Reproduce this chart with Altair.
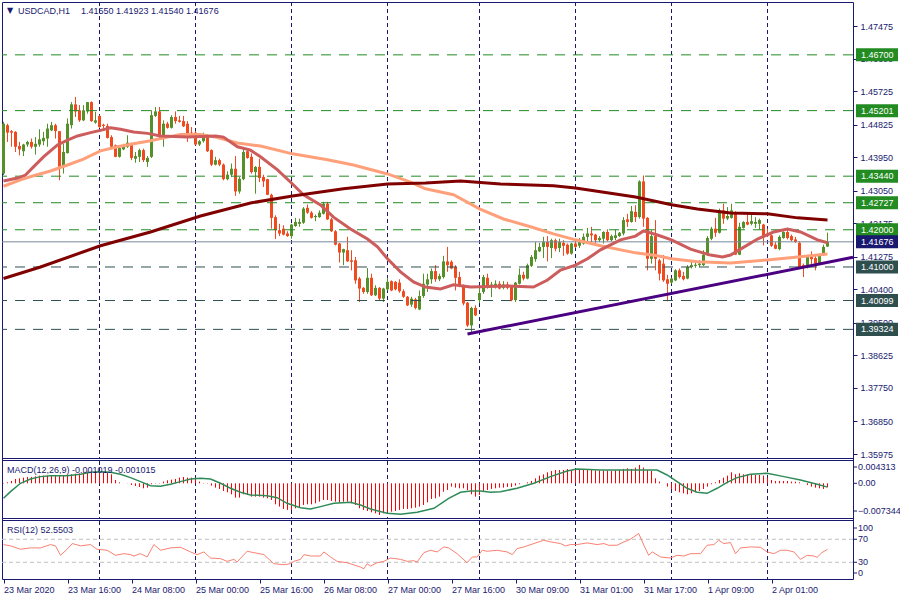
import altair as alt
import pandas as pd

# ---------------- data ----------------
opens = [1.4351,1.4481,1.4465,1.4463,1.4425,1.4411,1.4429,1.4436,1.4423,1.4429,
1.4438,1.4445,1.4467,1.4481,1.4465,1.4369,1.4406,1.4481,1.4537,1.4521,
1.4494,1.4518,1.4543,1.4488,1.4506,1.4479,1.4479,1.4449,1.4427,1.4396,
1.4416,1.4423,1.4431,1.4391,1.4396,1.4414,1.4382,1.4396,1.4506,1.4518,
1.4449,1.4485,1.4474,1.4503,1.4494,1.4492,1.4485,1.4461,1.4461,1.4429,
1.4438,1.4454,1.4414,1.4375,1.4387,1.4375,1.4336,1.4348,1.4364,1.4303,
1.4336,1.4411,1.4396,1.4355,1.4369,1.4342,1.4336,1.4294,1.4234,1.4199,
1.4203,1.4190,1.4183,1.4210,1.4216,1.4219,1.4259,1.4246,1.4234,1.4234,
1.4243,1.4270,1.4228,1.4196,1.4163,1.4139,1.4145,1.4118,1.4118,1.4069,
1.4044,1.4033,1.4071,1.4024,1.4044,1.4015,1.4040,1.4062,1.4060,1.4058,
1.4035,1.4020,1.3999,1.4013,1.3986,1.4022,1.4053,1.4067,1.4089,1.4067,
1.4073,1.4115,1.4114,1.4100,1.4073,1.4049,1.4004,1.3943,1.3990,1.4011,
1.4033,1.4071,1.4046,1.4049,1.4055,1.4044,1.4053,1.4049,1.4011,1.4055,
1.4079,1.4069,1.4103,1.4121,1.4142,1.4154,1.4167,1.4151,1.4172,1.4151,
1.4165,1.4160,1.4136,1.4163,1.4157,1.4163,1.4181,1.4190,1.4187,1.4172,
1.4176,1.4194,1.4172,1.4178,1.4183,1.4190,1.4228,1.4221,1.4248,1.4234,
1.4330,1.4232,1.4122,1.4183,1.4118,1.4109,1.4067,1.4058,1.4064,1.4091,
1.4076,1.4069,1.4100,1.4103,1.4105,1.4105,1.4132,1.4176,1.4203,1.4192,
1.4252,1.4230,1.4232,1.4246,1.4133,1.4205,1.4221,1.4216,1.4216,1.4216,
1.4214,1.4190,1.4185,1.4160,1.4148,1.4178,1.4194,1.4183,1.4174,1.4165,
1.4105,1.4100,1.4127,1.4124,1.4109,1.4132,1.41550]
highs = [1.4490,1.4485,1.4468,1.4465,1.4436,1.4431,1.4439,1.4445,1.4449,1.4470,
1.4463,1.4485,1.4490,1.4485,1.4465,1.4431,1.4499,1.4543,1.4557,1.4535,
1.4535,1.4543,1.4545,1.4517,1.4508,1.4485,1.4485,1.4454,1.4429,1.4423,
1.4431,1.4454,1.4434,1.4409,1.4418,1.4418,1.4398,1.4521,1.4530,1.4530,
1.4494,1.4490,1.4508,1.4518,1.4506,1.4506,1.4492,1.4476,1.4465,1.4441,
1.4461,1.4456,1.4416,1.4396,1.4391,1.4378,1.4357,1.4378,1.4398,1.4342,
1.4418,1.4416,1.4405,1.4371,1.4391,1.4348,1.4337,1.4297,1.4239,1.4216,
1.4212,1.4196,1.4216,1.4232,1.4230,1.4261,1.4268,1.4250,1.4241,1.4252,
1.4275,1.4275,1.4232,1.4199,1.4165,1.4149,1.4181,1.4145,1.4127,1.4073,
1.4046,1.4097,1.4082,1.4051,1.4046,1.4044,1.4071,1.4064,1.4062,1.4067,
1.4040,1.4022,1.4020,1.4017,1.4037,1.4082,1.4082,1.4096,1.4105,1.4082,
1.4130,1.4154,1.4118,1.4105,1.4087,1.4053,1.4006,1.3993,1.3997,1.4044,
1.4079,1.4082,1.4060,1.4064,1.4062,1.4062,1.4060,1.4051,1.4060,1.4096,
1.4087,1.4109,1.4132,1.4167,1.4165,1.4181,1.4183,1.4176,1.4176,1.4176,
1.4172,1.4163,1.4165,1.4169,1.4178,1.4190,1.4205,1.4208,1.4189,1.4183,
1.4196,1.4201,1.4187,1.4201,1.4194,1.4234,1.4243,1.4264,1.4266,1.4333,
1.4346,1.4234,1.4199,1.4226,1.4122,1.4132,1.4079,1.4071,1.4094,1.4096,
1.4087,1.4105,1.4115,1.4111,1.4118,1.4145,1.4183,1.4208,1.4232,1.4257,
1.4270,1.4261,1.4270,1.4250,1.4219,1.4223,1.4243,1.4246,1.4234,1.4230,
1.4216,1.4203,1.4187,1.4167,1.4185,1.4196,1.4205,1.4187,1.4181,1.4169,
1.4109,1.4132,1.4142,1.4130,1.4136,1.4160,1.41923]
lows = [1.4347,1.4436,1.4423,1.4409,1.4400,1.4398,1.4423,1.4418,1.4402,1.4423,
1.4427,1.4423,1.4465,1.4445,1.4333,1.4351,1.4405,1.4472,1.4503,1.4490,
1.4492,1.4512,1.4490,1.4485,1.4474,1.4472,1.4445,1.4420,1.4395,1.4394,
1.4414,1.4420,1.4387,1.4380,1.4382,1.4382,1.4369,1.4393,1.4503,1.4445,
1.4423,1.4472,1.4472,1.4485,1.4488,1.4476,1.4436,1.4452,1.4427,1.4425,
1.4434,1.4409,1.4371,1.4373,1.4371,1.4333,1.4333,1.4342,1.4291,1.4297,
1.4333,1.4391,1.4351,1.4297,1.4328,1.4315,1.4293,1.4203,1.4175,1.4183,
1.4185,1.4181,1.4176,1.4208,1.4208,1.4216,1.4243,1.4230,1.4223,1.4232,
1.4241,1.4226,1.4194,1.4158,1.4112,1.4105,1.4114,1.4091,1.4055,1.4006,
1.4028,1.4028,1.4022,1.4022,1.4011,1.4006,1.4037,1.4035,1.4037,1.4031,
1.4017,1.3995,1.3993,1.3986,1.3984,1.4017,1.4033,1.4055,1.4060,1.4062,
1.4069,1.4087,1.4094,1.4037,1.4046,1.3997,1.3939,1.3925,1.3968,1.4003,
1.4028,1.4042,1.4019,1.4042,1.4040,1.4040,1.4040,1.4008,1.4006,1.4053,
1.4064,1.4067,1.4100,1.4114,1.4140,1.4124,1.4115,1.4124,1.4142,1.4140,
1.4130,1.4133,1.4133,1.4151,1.4151,1.4160,1.4165,1.4163,1.4163,1.4167,
1.4163,1.4169,1.4169,1.4172,1.4181,1.4185,1.4208,1.4219,1.4221,1.4230,
1.4208,1.4091,1.4109,1.4091,1.4064,1.4060,1.4008,1.4055,1.4062,1.4069,
1.4064,1.4067,1.4096,1.4098,1.4100,1.4103,1.4130,1.4172,1.4181,1.4190,
1.4216,1.4226,1.4230,1.4132,1.4132,1.4203,1.4212,1.4212,1.4205,1.4201,
1.4158,1.4181,1.4154,1.4148,1.4145,1.4176,1.4174,1.4169,1.4165,1.4098,
1.4073,1.4096,1.4105,1.4091,1.4106,1.4130,1.41540]
closes = [1.4485,1.4461,1.4461,1.4423,1.4416,1.4429,1.4436,1.4423,1.4431,1.4443,
1.4447,1.4472,1.4481,1.4465,1.4369,1.4409,1.4485,1.4537,1.4518,1.4494,
1.4521,1.4543,1.4492,1.4494,1.4476,1.4477,1.4447,1.4423,1.4396,1.4420,
1.4425,1.4434,1.4393,1.4398,1.4414,1.4387,1.4393,1.4508,1.4518,1.4449,
1.4485,1.4474,1.4503,1.4492,1.4490,1.4478,1.4458,1.4456,1.4429,1.4438,
1.4454,1.4411,1.4375,1.4387,1.4375,1.4336,1.4348,1.4364,1.4303,1.4337,
1.4409,1.4393,1.4355,1.4369,1.4339,1.4330,1.4294,1.4232,1.4199,1.4190,
1.4187,1.4183,1.4214,1.4221,1.4221,1.4257,1.4246,1.4232,1.4237,1.4246,
1.4270,1.4228,1.4196,1.4160,1.4139,1.4148,1.4115,1.4114,1.4064,1.4042,
1.4033,1.4071,1.4024,1.4044,1.4015,1.4042,1.4060,1.4037,1.4040,1.4035,
1.4020,1.3997,1.4015,1.3990,1.4022,1.4055,1.4067,1.4089,1.4067,1.4076,
1.4115,1.4105,1.4096,1.4071,1.4049,1.4002,1.3943,1.3990,1.3970,1.4030,
1.4073,1.4046,1.4053,1.4055,1.4042,1.4053,1.4044,1.4011,1.4058,1.4079,
1.4069,1.4105,1.4127,1.4145,1.4154,1.4167,1.4154,1.4172,1.4149,1.4167,
1.4157,1.4136,1.4163,1.4154,1.4167,1.4181,1.4190,1.4185,1.4172,1.4178,
1.4194,1.4172,1.4183,1.4185,1.4192,1.4226,1.4221,1.4250,1.4234,1.4330,
1.4230,1.4122,1.4183,1.4122,1.4082,1.4064,1.4055,1.4069,1.4091,1.4073,
1.4067,1.4100,1.4105,1.4106,1.4109,1.4133,1.4178,1.4203,1.4192,1.4252,
1.4230,1.4237,1.4252,1.4133,1.4208,1.4221,1.4214,1.4223,1.4221,1.4226,
1.4183,1.4183,1.4157,1.4149,1.4181,1.4194,1.4178,1.4172,1.4167,1.4100,
1.4100,1.4127,1.4121,1.4109,1.4133,1.4154,1.41676]

# moving averages (bar position, value)
ma_slow_bars = [0, 9.25, 24.25, 36.75, 49.25, 61.75, 72.25, 85, 96, 105.5, 114.25, 124.25,
                137.5, 143, 149.25, 158, 167, 173.5, 181.75, 191, 198.5, 206]
ma_slow_vals = [1.4069, 1.4100, 1.4157, 1.4194, 1.4237, 1.4272, 1.4291, 1.4310, 1.4323, 1.4326,
                1.4331, 1.4323, 1.4318, 1.4312, 1.4302, 1.4288, 1.4267, 1.4256, 1.4245, 1.4243,
                1.4232, 1.4226]
ma_mid_bars = [0, 4.25, 7.5, 11.75, 16, 20, 24.25, 28.5, 32.5, 36.75, 41, 44.25, 49.25, 53, 58.5,
               64.25, 72.25, 81, 87.5, 96, 101.75, 105.5, 112.5, 119, 125, 131.75, 137.5, 143,
               149.25, 158, 163.5, 167, 173.5, 181.75, 191, 198.5, 206]
ma_mid_vals = [1.4317, 1.4334, 1.4345, 1.4358, 1.4374, 1.4390, 1.4412, 1.4423, 1.4431, 1.4439,
               1.4449, 1.4456, 1.4456, 1.4449, 1.4433, 1.4425, 1.4404, 1.4388, 1.4374, 1.4350,
               1.4328, 1.4310, 1.4294, 1.4256, 1.4229, 1.4208, 1.4189, 1.4173, 1.4157, 1.4138,
               1.4130, 1.4122, 1.4114, 1.4111, 1.4119, 1.4127, 1.4135]
ma_fast_bars = [0, 3.5, 5.5, 7.5, 10, 11.75, 13.5, 16, 18.5, 21.75, 24.25, 26.75, 29.25, 32.5, 36,
                39.25, 46, 53, 55, 58.5, 61.75, 64.25, 68.5, 72.25, 75, 79.25, 82.5, 86.75, 91,
                93.5, 96, 99.25, 102.5, 105.5, 109.25, 112.5, 116.75, 126, 132.5, 136, 139.25,
                143, 146, 149.25, 154.25, 158, 160, 163.5, 167, 171.75, 176.75, 179.75, 181.75,
                184.25, 188.5, 192.5, 196, 199.25, 203.5, 206]
ma_fast_vals = [1.4331, 1.4339, 1.4347, 1.4369, 1.4396, 1.4412, 1.4428, 1.4441, 1.4452, 1.4461,
                1.4467, 1.4474, 1.4470, 1.4463, 1.4459, 1.4452, 1.4449, 1.4452, 1.4449, 1.4423,
                1.4414, 1.4396, 1.4361, 1.4323, 1.4294, 1.4267, 1.4234, 1.4202, 1.4175, 1.4154,
                1.4122, 1.4087, 1.4060, 1.4046, 1.4041, 1.4052, 1.4046, 1.4049, 1.4046, 1.4065,
                1.4092, 1.4105, 1.4122, 1.4146, 1.4173, 1.4183, 1.4197, 1.4186, 1.4173, 1.4148,
                1.4132, 1.4127, 1.4132, 1.4148, 1.4175, 1.4194, 1.4202, 1.4194, 1.4173, 1.4165]

trend_bars = [116, 212.375]
trend_vals = [1.3920, 1.4126]

green_levels = [1.46700, 1.45201, 1.43440, 1.42727, 1.42000]
dark_levels = [1.41000, 1.40099, 1.39324]
bid_level = [1.41676]
price_ticks = [1.47475, 1.46600, 1.45725, 1.44825, 1.43950, 1.43050, 1.42175, 1.41275,
               1.40400, 1.39500, 1.38625, 1.37750, 1.36850, 1.35975]

day_bars = [24, 48, 72, 96, 119, 143, 167, 191]
time_tick_bars = [0, 16, 32, 48, 64, 80, 96, 112, 128, 144, 160, 176, 192]
time_labels = ["23 Mar 2020", "23 Mar 16:00", "24 Mar 08:00", "25 Mar 00:00", "25 Mar 16:00",
               "26 Mar 08:00", "27 Mar 00:00", "27 Mar 16:00", "30 Mar 09:00", "31 Mar 01:00",
               "31 Mar 17:00", "1 Apr 09:00", "2 Apr 01:00"]

macd_hist = [0.00009,0.00026,0.00062,0.00115,0.00132,0.00150,0.00168,0.00168,0.00185,0.00203,
0.00203,0.00203,0.00221,0.00203,0.00203,0.00203,0.00221,0.00238,0.00256,0.00265,
0.00291,0.00309,0.00309,0.00327,0.00327,0.00309,0.00291,0.00238,0.00088,0.00026,
0.0,-0.00005,-0.00044,-0.00071,-0.00097,-0.00132,-0.00115,-0.00026,-0.00009,0.00009,
0.00044,0.00079,0.00097,0.00115,0.00150,0.00168,0.00150,0.00150,0.00115,0.00044,
0.00009,-0.00009,-0.00062,-0.00115,-0.00150,-0.00203,-0.00238,-0.00291,-0.00380,-0.00380,
-0.00291,-0.00309,-0.00353,-0.00353,-0.00353,-0.00380,-0.00397,-0.00442,-0.00556,-0.00618,
-0.00680,-0.00706,-0.00706,-0.00662,-0.00645,-0.00574,-0.00556,-0.00556,-0.00530,-0.00486,
-0.00442,-0.00442,-0.00468,-0.00486,-0.00503,-0.00486,-0.00486,-0.00530,-0.00574,-0.00662,
-0.00706,-0.00733,-0.00768,-0.00795,-0.00839,-0.00795,-0.00768,-0.00751,-0.00733,-0.00706,
-0.00680,-0.00680,-0.00662,-0.00645,-0.00618,-0.00574,-0.00503,-0.00415,-0.00397,-0.00353,
-0.00221,-0.00177,-0.00088,-0.00115,-0.00132,-0.00132,-0.00177,-0.00291,-0.00353,-0.00309,
-0.00203,-0.00177,-0.00150,-0.00132,-0.00115,-0.00115,-0.00097,-0.00097,-0.00062,-0.00026,
0.0,0.00026,0.00062,0.00132,0.00203,0.00238,0.00291,0.00327,0.00353,0.00353,
0.00353,0.00380,0.00353,0.00353,0.00353,0.00353,0.00353,0.00353,0.00344,0.00344,
0.00336,0.00336,0.00327,0.00344,0.00353,0.00380,0.00397,0.00380,0.00415,0.00486,
0.00415,0.00353,0.00327,0.00132,0.00044,0.0,-0.00088,-0.00150,-0.00203,-0.00238,
-0.00265,-0.00291,-0.00265,-0.00238,-0.00203,-0.00150,-0.00088,-0.00026,0.00026,0.00088,
0.00150,0.00203,0.00291,0.00238,0.00265,0.00238,0.00238,0.00238,0.00221,0.00221,
0.00203,0.00150,0.00088,0.00062,0.00062,0.00062,0.00062,0.00044,0.00044,0.00026,
0.0,-0.00044,-0.00088,-0.00115,-0.00132,-0.00150,-0.001019]
sig_bars = [0, 1.75, 4.25, 6.75, 9.25, 11.75, 15.9, 19.25, 21.75, 24.25, 26.75, 29.25, 31.75,
            34.25, 36.75, 39.25, 41.75, 44.25, 46.75, 49.25, 51.75, 54.25, 56.75, 59.25, 61.75,
            65.9, 68.4, 70.9, 74.25, 76.75, 79.25, 82.6, 86.75, 89.25, 91.75, 95.9, 99.25,
            103.4, 107.6, 111.3, 114.25, 116.75, 119.25, 121.75, 124.25, 128.4, 132.6, 136.75,
            140.9, 143.4, 149.25, 157.6, 163.4, 165.9, 168.4, 170.9, 173.4, 175.9, 178.4,
            180.9, 183.4, 186.75, 190.9, 195.1, 199.25, 203.4, 206]
sig_vals = [-0.00397, -0.00221, 0.0, 0.00115, 0.00177, 0.00203, 0.00203, 0.00238, 0.00291,
            0.00309, 0.00291, 0.00238, 0.00150, 0.00044, -0.00062, -0.00079, -0.00026, 0.00044,
            0.00115, 0.00132, 0.00115, 0.0, -0.00132, -0.00238, -0.00309, -0.00327, -0.00380,
            -0.00530, -0.00645, -0.00680, -0.00618, -0.00530, -0.00503, -0.00574, -0.00680,
            -0.00795, -0.00821, -0.00768, -0.00662, -0.00397, -0.00238, -0.00203, -0.00203,
            -0.00238, -0.00221, -0.00132, 0.0, 0.00177, 0.00327, 0.00380, 0.00353, 0.00353,
            0.00353, 0.00221, 0.00044, -0.00132, -0.00238, -0.00265, -0.00132, 0.00026, 0.00150,
            0.00238, 0.00265, 0.00177, 0.00088, -0.00026, -0.001015]
macd_ticks = [0.004313, 0.0, -0.007344]

rsi_bars = [0, 1.75, 4.25, 6.75, 9.25, 11.75, 13, 14.25, 15.9, 17.2,
            19.25, 21.75, 23.4, 25.9, 28, 30.1, 31.75, 32.6, 34.25, 35.9,
            37.6, 39.25, 41.75, 44.25, 46.75, 48.4, 50.1, 51.75, 54.25, 55.9,
            57.6, 58.4, 60.9, 62.6, 65.1, 67.6, 70.1, 71.75, 72.6, 74.25,
            75.1, 76.75, 79.25, 80.1, 81.75, 83.4, 85.9, 89.25, 90.1, 90.9,
            91.75, 93.4, 95.1, 96.75, 99.25, 100.9, 102.6, 103.4, 105.1, 106.75,
            108.4, 110.1, 111.3, 113.4, 115.9, 117.2, 118.4, 119.7, 120.9, 123.4,
            125.9, 127.2, 128.4, 130.1, 132.6, 135.1, 136.75, 139.25, 140.5, 141.75,
            143.4, 145.9, 148.4, 150.1, 151.3, 153.4, 155.1, 156.3, 157.6, 158.8,
            160.1, 161.3, 162.2, 164.25, 166.75, 168.4, 170.1, 171.75, 174.25, 175.9,
            177.6, 178.8, 180.1, 181.75, 183, 184.25, 186.75, 189.25, 190.9, 192.6,
            194.25, 195.9, 197.6, 199.25, 200.9, 202.6, 203.4, 204.6, 206]
rsi_vals = [60.8, 58.5, 52.6, 55.0, 55.0, 60.8, 58.5, 42.1, 52.6, 62.6,
            58.5, 60.8, 52.6, 50.9, 42.1, 45.0, 43.3, 40.9, 45.0, 39.2,
            60.8, 50.9, 55.0, 56.1, 48.0, 43.3, 48.0, 37.4, 36.3, 31.6,
            35.1, 30.4, 49.1, 46.8, 43.3, 27.5, 25.7, 27.5, 31.6, 35.1,
            43.3, 40.9, 40.9, 48.0, 39.2, 31.6, 29.2, 21.6, 18.7, 27.5,
            23.4, 29.2, 31.6, 37.4, 35.1, 31.6, 32.7, 30.4, 46.8, 50.9,
            48.0, 56.7, 55.0, 45.0, 29.2, 39.2, 39.2, 50.9, 49.1, 50.9,
            48.0, 43.3, 53.8, 56.7, 62.6, 68.4, 65.5, 62.6, 58.5, 60.8,
            60.8, 63.7, 60.8, 62.6, 59.6, 59.6, 65.5, 68.4, 74.3, 80.1,
            59.6, 42.1, 48.0, 39.2, 37.4, 42.1, 40.9, 45.0, 45.0, 59.6,
            60.8, 68.4, 62.6, 64.3, 45.0, 55.0, 56.7, 56.1, 48.0, 45.0,
            50.9, 50.9, 48.0, 35.1, 42.1, 40.9, 38.6, 46.8, 52.5503]
rsi_levels = [70, 30]

# ---------------- styling / layout ----------------
NAVY = "#191970"
FONT = "Liberation Sans"
BULL = "#56902A"
BEAR = "#F04A20"
GREEN = "#228B22"
DARK = "#2F4F4F"
BIDC = "#778899"
HIST = "#FF0000"
W = 851          # plot width
H = 577          # full plot height (price + MACD + RSI panes)
MAIN = (0, 456)  # pane extents inside the plot (pixels)
MACDP = (459, 516)
RSIP = (519, 577)

XS = alt.Scale(domain=[-0.375, 212.375], nice=False, zero=False)
main_scale = alt.Scale(domain=[1.35868, 1.48120], range=[MAIN[1], MAIN[0]], nice=False, zero=False)
macd_scale = alt.Scale(domain=[-0.009192, 0.005907], range=[MACDP[1], MACDP[0]], nice=False, zero=False)
rsi_scale = alt.Scale(domain=[0.9, 101.8], range=[RSIP[1], RSIP[0]], nice=False, zero=False)

labels_js = "[" + ",".join(f"'{t}'" for t in time_labels) + "]"
X_AXIS = alt.Axis(values=time_tick_bars, labelExpr=f"{labels_js}[round(datum.value / 16)]",
                  labelAlign="left", labelFont=FONT, labelFontSize=9, labelColor=NAVY,
                  tickColor=NAVY, tickSize=4, domain=False, labelPadding=2, grid=False,
                  title=None, labelFlush=False, labelOverlap=False, labelBound=False)
PRICE_AXIS = alt.Axis(orient="right", values=price_ticks, format=".5f", labelFont=FONT,
                      labelFontSize=9, labelColor=NAVY, tickColor=NAVY, tickSize=4, domain=False,
                      labelPadding=3, title=None, grid=False, labelOverlap=False,
                      labelFlush=False, labelBound=False)


def xq(f):
    return alt.X(f"{f}:Q", scale=XS, axis=X_AXIS)


def yq(f, ax=None):
    return alt.Y(f"{f}:Q", scale=main_scale, axis=ax)


def text_layer(txt, x, y, size=9, font=FONT, color=NAVY):
    return alt.Chart(pd.DataFrame({"t": [txt]})).mark_text(
        align="left", baseline="middle", font=font, fontSize=size, color=color
    ).encode(x=alt.value(x), y=alt.value(y), text="t:N")


day_df = pd.DataFrame({"b": day_bars})


def vgrid(pane):
    return alt.Chart(day_df).mark_rule(color=NAVY, strokeDash=[4, 3], strokeWidth=1).encode(
        x=xq("b"), y=alt.value(pane[0]), y2=alt.value(pane[1]))


def hsep(yv):
    return alt.Chart(pd.DataFrame({"s": [yv]})).mark_rule(color=NAVY, strokeWidth=1).encode(
        x=alt.value(0), x2=alt.value(W), y=alt.value(yv))


candles = pd.DataFrame({"i": list(range(len(opens))), "o": opens, "h": highs,
                        "l": lows, "c": closes})

layers = [vgrid(MAIN), vgrid(MACDP), vgrid(RSIP)]
for yv in [MAIN[1] + 0.5, MACDP[0] - 0.5, MACDP[1] + 0.5, RSIP[0] - 0.5]:
    layers.append(hsep(yv))

# ---- price pane ----
body_expr = "abs(datum.c - datum.o) < 0.0003 ? datum.o + 0.0003 : datum.c"
for cond, colr in [("datum.c >= datum.o", BULL), ("datum.c < datum.o", BEAR)]:
    base = alt.Chart(candles).transform_filter(cond)
    layers.append(base.mark_rule(color=colr, strokeWidth=1).encode(x=xq("i"), y=yq("l"), y2="h:Q"))
    layers.append(base.transform_calculate(top=body_expr).mark_rule(color=colr, strokeWidth=3)
                  .encode(x=xq("i"), y=yq("o"), y2="top:Q"))

layers.append(alt.Chart(pd.DataFrame({"p": green_levels})).mark_rule(
    color=GREEN, strokeDash=[10, 8], strokeWidth=1).encode(y=yq("p", PRICE_AXIS)))
layers.append(alt.Chart(pd.DataFrame({"p": dark_levels})).mark_rule(
    color=DARK, strokeDash=[10, 8], strokeWidth=1).encode(y=yq("p")))
layers.append(alt.Chart(pd.DataFrame({"p": bid_level})).mark_rule(
    color=BIDC, strokeWidth=1).encode(y=yq("p")))

for bars, vals, colr in [(ma_mid_bars, ma_mid_vals, "#FFA07A"),
                         (ma_fast_bars, ma_fast_vals, "#CD5C5C"),
                         (ma_slow_bars, ma_slow_vals, "#800000"),
                         (trend_bars, trend_vals, "#4B0082")]:
    layers.append(alt.Chart(pd.DataFrame({"b": bars, "v": vals})).mark_line(
        color=colr, strokeWidth=3).encode(x=xq("b"), y=yq("v")))

for vals, colr in [(green_levels, GREEN), (bid_level, NAVY), (dark_levels, DARK)]:
    base = alt.Chart(pd.DataFrame({"p": vals}))
    layers.append(base.transform_calculate(t="datum.p + 0.00175", bt="datum.p - 0.00175")
                  .mark_rect(color=colr).encode(x=alt.value(W + 3), x2=alt.value(W + 45),
                                                 y=yq("t"), y2="bt:Q"))
    layers.append(base.mark_text(align="left", baseline="middle", font=FONT, fontSize=9,
                                 color="white").encode(x=alt.value(W + 8), y=yq("p"),
                                                        text=alt.Text("p:Q", format=".5f")))

layers.append(text_layer("\u25BC", 5, 9, size=8, font="DejaVu Sans"))
layers.append(text_layer("USDCAD,H1", 16, 9))
layers.append(text_layer("1.41550 1.41923 1.41540 1.41676", 79, 9))

# ---- MACD pane ----
macd_df = pd.DataFrame({"i": list(range(len(macd_hist))), "m": macd_hist})
layers.append(alt.Chart(macd_df).transform_calculate(z="0").mark_rule(
    color=HIST, stroke=HIST, strokeWidth=1, opacity=1).encode(
    x=xq("i"), y=alt.Y("m:Q", scale=macd_scale, axis=None), y2="z:Q",
    stroke=alt.value(HIST)))
layers.append(alt.Chart(pd.DataFrame({"b": sig_bars, "v": sig_vals})).mark_line(
    color="#2E8B57", strokeWidth=1.5).encode(
    x=xq("b"), y=alt.Y("v:Q", scale=macd_scale, axis=None)))
mt = alt.Chart(pd.DataFrame({"v": macd_ticks}))
layers.append(mt.mark_rule(color=NAVY).encode(
    x=alt.value(W), x2=alt.value(W + 4), y=alt.Y("v:Q", scale=macd_scale, axis=None)))
layers.append(mt.transform_calculate(lab="datum.v == 0 ? '0.00' : format(datum.v, '.6f')")
              .mark_text(align="left", baseline="middle", font=FONT, fontSize=9, color=NAVY)
              .encode(x=alt.value(W + 5), y=alt.Y("v:Q", scale=macd_scale, axis=None), text="lab:N"))
layers.append(text_layer("MACD(12,26,9) -0.001019 -0.001015", 5, MACDP[0] + 9))

# ---- RSI pane ----
rl = alt.Chart(pd.DataFrame({"r": rsi_levels}))
layers.append(rl.mark_rule(color="#C0C0C0", strokeDash=[4, 3], strokeWidth=1).encode(
    y=alt.Y("r:Q", scale=rsi_scale, axis=None), x=alt.value(0), x2=alt.value(W)))
layers.append(alt.Chart(pd.DataFrame({"b": rsi_bars, "v": rsi_vals})).mark_line(
    color="#FA8072", strokeWidth=1).encode(
    x=xq("b"), y=alt.Y("v:Q", scale=rsi_scale, axis=None)))
layers.append(rl.mark_rule(color=NAVY).encode(
    x=alt.value(W), x2=alt.value(W + 4), y=alt.Y("r:Q", scale=rsi_scale, axis=None)))
layers.append(rl.mark_text(align="left", baseline="middle", font=FONT, fontSize=9, color=NAVY)
              .encode(x=alt.value(W + 5), y=alt.Y("r:Q", scale=rsi_scale, axis=None), text="r:Q"))
layers.append(text_layer("100", W + 5, RSIP[0] + 7))
layers.append(text_layer("0", W + 5, RSIP[1] - 6))
for yv in [RSIP[0] + 7, RSIP[1] - 6]:
    layers.append(alt.Chart(pd.DataFrame({"s": [yv]})).mark_rule(color=NAVY).encode(
        x=alt.value(W), x2=alt.value(W + 4), y=alt.value(yv)))
layers.append(text_layer("RSI(12) 52.5503", 5, RSIP[0] + 9))

chart = alt.layer(*layers).resolve_scale(y="independent").properties(
    width=W, height=H,
    autosize=alt.AutoSizeParams(type="none"),
    padding={"left": 2, "top": 2, "right": 47, "bottom": 21},
    background="white",
).configure_view(stroke=NAVY, strokeWidth=1)

chart.save("out.html", embed_options={"renderer": "svg", "actions": False})
